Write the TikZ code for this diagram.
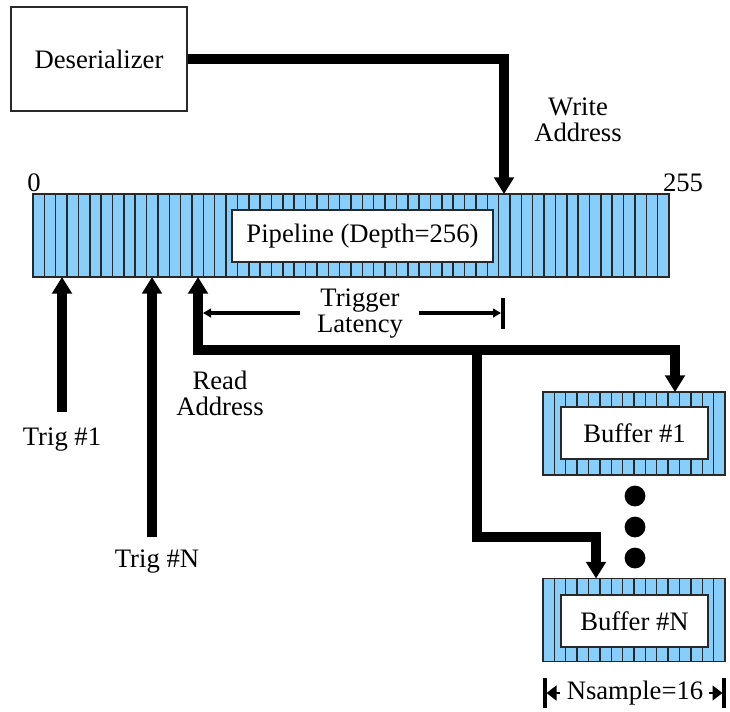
\documentclass[tikz,border=0pt]{standalone}
\usepackage{fontspec}
\setmainfont{Liberation Serif}
\newfontfamily\timesfont{Liberation Serif}
\usetikzlibrary{arrows.meta}
\definecolor{cellblue}{RGB}{135,206,250}
\definecolor{edgegray}{RGB}{40,40,40}
\tikzset{
  bigtip/.tip={Triangle[width=14.5pt,length=12.5pt]},
  smalltip/.tip={Triangle[width=6.5pt,length=6pt]},
  nstip/.tip={Triangle[width=11pt,length=7.5pt]},
  bigline/.style={line width=7.5pt, line join=miter, line cap=butt},
  thinline/.style={line width=2.8pt},
  cellrow/.style={draw=edgegray, fill=cellblue, line width=1pt, inner sep=0pt},
  stripe/.style={draw=edgegray, line width=1.1pt},
  whitebox/.style={draw=edgegray, fill=white, line width=1pt, inner sep=0pt},
  plain/.style={align=center, inner sep=0pt},
}
\begin{document}
\begin{tikzpicture}[x=0.75pt,y=-0.75pt,font=\timesfont\fontsize{20}{19.5}\selectfont]
\useasboundingbox (0,0) rectangle (730,711);

% Deserializer
\node[draw=edgegray, line width=1pt, minimum width=132pt, minimum height=78pt, inner sep=0pt] (des) at (99,59) {Deserializer};

% Pipeline
\node[cellrow, minimum width=477pt, minimum height=62.25pt] (pipe) at (351,235.5) {};
\foreach \i in {1,...,55} \draw[stripe] ({33+\i*11.357},194) -- ({33+\i*11.357},277);
\node[whitebox, minimum width=195.75pt, minimum height=39pt] (pipelabel) at (362.5,236) {Pipeline (Depth=256)};
\node[plain] (zero) at (34,183) {0};
\node[plain] (last) at (683,183) {255};

% Buffers
\node[cellrow, minimum width=136.5pt, minimum height=62.25pt] (buf1) at (634,433.5) {};
\foreach \i in {1,...,15} \draw[stripe] ({543+\i*11.375},392) -- ({543+\i*11.375},475);
\node[whitebox, minimum width=110.25pt, minimum height=39pt] (buf1label) at (634.5,433) {Buffer \#1};

\node[cellrow, minimum width=136.5pt, minimum height=62.25pt] (bufN) at (634,620) {};
\foreach \i in {1,...,15} \draw[stripe] ({543+\i*11.375},578.5) -- ({543+\i*11.375},661.5);
\node[whitebox, minimum width=110.25pt, minimum height=39pt] (bufNlabel) at (634.5,621) {Buffer \#N};

% dots
\foreach \yy in {496,527,558} \fill (635,\yy) circle (7.8pt);

% Write address
\coordinate (wtip) at (504,194);
\draw[bigline, -bigtip] (des.east |- 0,58.5) -| (wtip);
\node[plain] (wlabel) at (578,120) {Write\\Address};

% Trigger arrows
\coordinate (t1tip) at (62,277);
\coordinate (t1foot) at (62,412);
\coordinate (tNtip) at (152,277);
\coordinate (tNfoot) at (152,537);
\draw[bigline, -bigtip] (t1foot) -- (t1tip);
\draw[bigline, -bigtip] (tNfoot) -- (tNtip);
\node[plain] (t1label) at (62,440) {Trig \#1};
\node[plain] (tNlabel) at (157,562) {Trig \#N};

% Read address
\coordinate (rtip) at (198,277);
\coordinate (rcorner) at (198,350);
\coordinate (rright) at (675,350);
\coordinate (b1tip) at (675,392);
\coordinate (branch) at (476.5,346);
\coordinate (bcorner1) at (476.5,537);
\coordinate (bNtip) at (596,578.5);
\draw[bigline, bigtip-bigtip] (rtip) -- (rcorner) -- (rright) -- (b1tip);
\draw[bigline, -bigtip] (branch) -- (bcorner1) -| (bNtip);
\node[plain] (rlabel) at (220,393) {Read\\Address};

% Trigger latency
\node[plain] (lat) at (360,314) {Trigger\\Latency};
\coordinate (latL) at (203,313);
\coordinate (latR) at (501,313);
\coordinate (latLs) at (300,313);
\coordinate (latRs) at (419,313);
\draw[thinline, -smalltip] (latLs) -- (latL);
\draw[thinline, -smalltip] (latRs) -- (latR);
\draw[line width=3pt] (503,298) -- (503,329);

% Nsample
\node[plain] (ns) at (635,693) {Nsample=16};
\coordinate (nsL) at (546.5,693);
\coordinate (nsR) at (722.5,693);
\coordinate (nsLs) at (560,693);
\coordinate (nsRs) at (709,693);
\draw[line width=3pt] (545,678) -- (545,708);
\draw[line width=3pt] (724,678) -- (724,708);
\draw[line width=2pt, -nstip] (nsLs) -- (nsL);
\draw[line width=2pt, -nstip] (nsRs) -- (nsR);
\end{tikzpicture}
\end{document}
